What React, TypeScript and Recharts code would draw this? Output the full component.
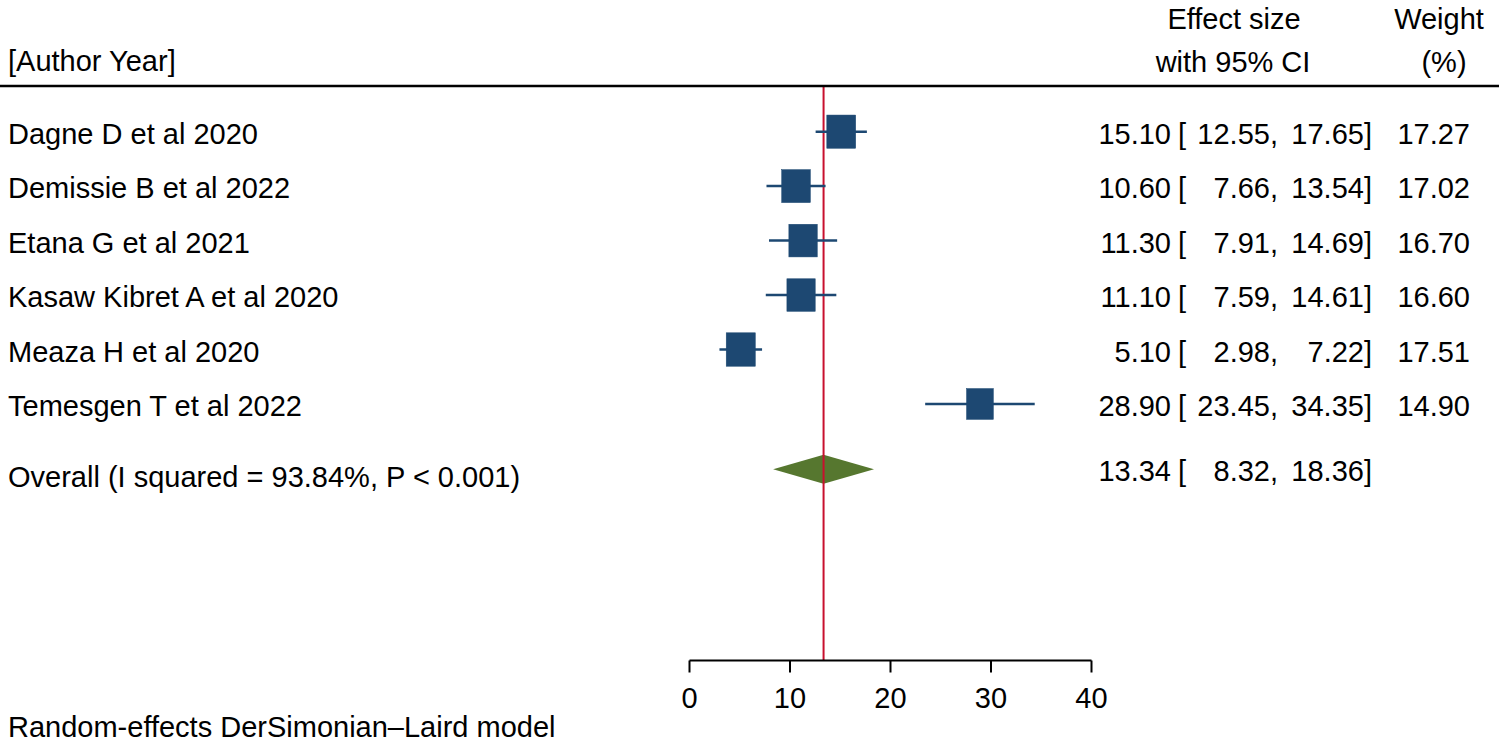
import React from 'react';
import {
  ComposedChart,
  Scatter,
  Area,
  Line,
  XAxis,
  YAxis,
  ReferenceLine,
} from 'recharts';

const studies = [
  'Dagne D et al 2020',
  'Demissie B et al 2022',
  'Etana G et al 2021',
  'Kasaw Kibret A et al 2020',
  'Meaza H et al 2020',
  'Temesgen T et al 2022',
];
const effects = [15.1, 10.6, 11.3, 11.1, 5.1, 28.9];
const lower = [12.55, 7.66, 7.91, 7.59, 2.98, 23.45];
const upper = [17.65, 13.54, 14.69, 14.61, 7.22, 34.35];
const weights = [17.27, 17.02, 16.7, 16.6, 17.51, 14.9];

const overallLabel = 'Overall (I squared = 93.84%, P < 0.001)';
const overallEffect = 13.34;
const overallLower = 8.32;
const overallUpper = 18.36;

const xTicks = [0, 10, 20, 30, 40];
const footnote = 'Random-effects DerSimonian\u2013Laird model';

const FONT = '"Liberation Sans", Arial, sans-serif';
const FS = 29;
const NAVY = '#1d4872';
const OLIVE = '#56772f';
const RED = '#c8102e';

const W = 1499;
const H = 747;
const PLOT_LEFT = 689.5;
const PLOT_RIGHT = 1091.5;
const PLOT_TOP = 87;
const PLOT_BOTTOM = 660.5;
const X_AXIS_H = 60;

// rows: studies 1..n, overall a bit further down
const overallRow = studies.length + 1.2;
const yDomain = [0.18, 10.71];
const DIAMOND_HALF = 0.266;

const studyData = studies.map((name, i) => ({
  name,
  x: effects[i],
  y: i + 1,
  w: weights[i],
}));

// one two-point segment per study for the confidence interval
const ciData = studies.map((_, i) => [
  { x: lower[i], y: i + 1 },
  { x: upper[i], y: i + 1 },
]);

const diamondData = [
  { x: overallLower, band: [overallRow, overallRow] },
  { x: overallEffect, band: [overallRow - DIAMOND_HALF, overallRow + DIAMOND_HALF] },
  { x: overallUpper, band: [overallRow, overallRow] },
];

const rowTicks = [...studies.map((_, i) => i + 1), overallRow];

const findRow = (v: number) => rowTicks.findIndex((r) => Math.abs(r - v) < 0.001);

const SquareShape = (props: any) => {
  const { cx, cy, payload } = props;
  const w = 6.95 * Math.sqrt(payload.w);
  const h = w * 1.15;
  return <rect x={cx - w / 2} y={cy - h / 2} width={w} height={h} fill={NAVY} stroke={NAVY} strokeWidth={0.5} />;
};

const LeftTick = (props: any) => {
  const { y, payload } = props;
  const idx = findRow(payload.value);
  const isOverall = idx === studies.length;
  const label = isOverall ? overallLabel : studies[idx];
  return (
    <text x={8} y={y + (isOverall ? 18 : 12)} fontFamily={FONT} fontSize={FS} fill="#000">
      {label}
    </text>
  );
};

const RightTick = (props: any) => {
  const { y, payload } = props;
  const idx = findRow(payload.value);
  const isOverall = idx === studies.length;
  const es = isOverall ? overallEffect : effects[idx];
  const lo = isOverall ? overallLower : lower[idx];
  const hi = isOverall ? overallUpper : upper[idx];
  const base = y + 12;
  const t = { fontFamily: FONT, fontSize: FS, fill: '#000' };
  return (
    <g>
      <text x={1171} y={base} textAnchor="end" {...t}>{es.toFixed(2)}</text>
      <text x={1178} y={base} {...t}>[</text>
      <text x={1278} y={base} textAnchor="end" {...t}>{lo.toFixed(2) + ','}</text>
      <text x={1372} y={base} textAnchor="end" {...t}>{hi.toFixed(2) + ']'}</text>
      {!isOverall && (
        <text x={1470} y={base} textAnchor="end" {...t}>{weights[idx].toFixed(2)}</text>
      )}
    </g>
  );
};

const XTick = (props: any) => {
  const { x, y, payload } = props;
  return (
    <text x={x} y={y + 33.5} textAnchor="middle" fontFamily={FONT} fontSize={FS} fill="#000">
      {payload.value}
    </text>
  );
};

export default function App() {
  const t = { fontFamily: FONT, fontSize: FS, fill: '#000' };
  return (
    <div style={{ position: 'relative', width: W, height: H, background: '#fff' }}>
      <style>{'body{margin:0}'}</style>
      <ComposedChart
        width={W}
        height={H}
        margin={{ top: PLOT_TOP, right: 0, bottom: H - PLOT_BOTTOM - X_AXIS_H, left: 0 }}
      >
        <XAxis
          dataKey="x"
          type="number"
          domain={[0, 40]}
          allowDataOverflow
          ticks={xTicks}
          height={X_AXIS_H}
          tickSize={12}
          axisLine={{ stroke: '#000', strokeWidth: 2 }}
          tickLine={{ stroke: '#000', strokeWidth: 2 }}
          tick={<XTick />}
        />
        <YAxis
          yAxisId="left"
          type="number"
          domain={yDomain}
          allowDataOverflow
          reversed
          ticks={rowTicks}
          width={PLOT_LEFT}
          axisLine={false}
          tickLine={false}
          tick={<LeftTick />}
        />
        <YAxis
          yAxisId="right"
          orientation="right"
          type="number"
          domain={yDomain}
          allowDataOverflow
          reversed
          ticks={rowTicks}
          width={W - PLOT_RIGHT}
          axisLine={false}
          tickLine={false}
          tick={<RightTick />}
        />
        <ReferenceLine yAxisId="left" x={overallEffect} stroke={RED} strokeWidth={2} />
        <Area
          yAxisId="left"
          data={diamondData}
          dataKey="band"
          type="linear"
          stroke="none"
          fill={OLIVE}
          fillOpacity={1}
          isAnimationActive={false}
          activeDot={false}
          dot={false}
        />
        {ciData.map((seg, i) => (
          <Line
            key={studies[i]}
            yAxisId="left"
            data={seg}
            dataKey="y"
            type="linear"
            stroke={NAVY}
            strokeWidth={2.5}
            dot={false}
            activeDot={false}
            isAnimationActive={false}
          />
        ))}
        <Scatter
          yAxisId="left"
          data={studyData}
          dataKey="y"
          shape={<SquareShape />}
          isAnimationActive={false}
        />
      </ComposedChart>
      <svg
        width={W}
        height={H}
        style={{ position: 'absolute', left: 0, top: 0, pointerEvents: 'none' }}
      >
        <text x={8} y={71} {...t}>[Author Year]</text>
        <text x={1234} y={29} textAnchor="middle" {...t}>Effect size</text>
        <text x={1233} y={72} textAnchor="middle" {...t}>with 95% CI</text>
        <text x={1439} y={29} textAnchor="middle" {...t}>Weight</text>
        <text x={1444} y={72} textAnchor="middle" {...t}>(%)</text>
        <line x1={0} x2={W} y1={86} y2={86} stroke="#000" strokeWidth={2.5} />
        <text x={8} y={737} {...t}>{footnote}</text>
      </svg>
    </div>
  );
}
